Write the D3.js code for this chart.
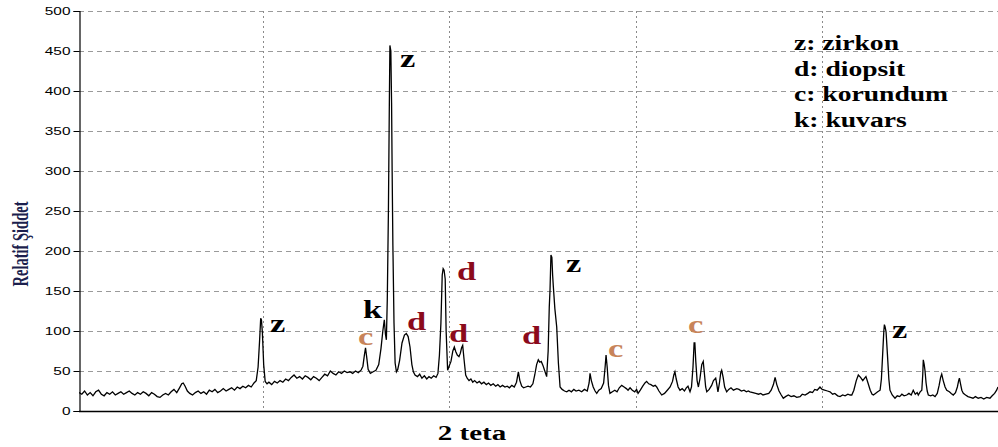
<!DOCTYPE html>
<html>
<head>
<meta charset="utf-8">
<script src="https://cdn.jsdelivr.net/npm/d3@7"></script>
<style>
  html, body { margin: 0; padding: 0; background: #fff; }
  svg { display: block; }
</style>
</head>
<body>
<svg id="chart" width="998" height="447"></svg>
<script>
// XRD pattern: 2θ (degrees) and relative intensity
const twoTheta = [
  10.10,10.25,10.40,10.55,10.70,10.85,11.00,11.15,11.30,11.45,11.60,11.75,11.90,12.05,12.20,12.35,12.50,12.65,12.80,12.95,
  13.10,13.25,13.40,13.55,13.70,13.85,14.00,14.15,14.30,14.45,14.60,14.75,14.90,15.05,15.20,15.35,15.50,15.62,15.70,15.80,
  15.92,16.05,16.20,16.35,16.50,16.65,16.80,16.95,17.10,17.25,17.40,17.55,17.70,17.85,18.00,18.15,18.30,18.45,18.60,18.75,
  18.90,19.05,19.20,19.35,19.50,19.62,19.72,19.80,19.86,19.90,19.95,20.02,20.10,20.20,
  20.30,20.45,20.60,20.75,20.90,21.05,21.20,21.35,21.50,21.65,21.80,21.95,22.10,22.25,22.40,22.55,22.70,22.85,23.00,23.15,
  23.30,23.45,23.60,23.75,23.90,24.05,24.20,24.35,24.50,24.65,24.80,24.95,25.10,25.25,25.35,25.43,25.49,25.55,25.63,25.75,
  25.90,26.05,26.20,26.32,26.42,26.50,26.56,26.61,26.66,26.72,26.77,26.80,26.85,26.89,26.92,26.96,27.02,27.08,27.15,27.22,27.32,
  27.45,27.58,27.68,27.78,27.88,27.98,28.06,28.15,28.28,28.40,28.52,28.65,28.78,28.90,29.02,29.15,29.28,29.38,29.46,29.54,
  29.61,29.66,29.71,29.77,29.82,29.90,29.98,30.08,30.18,30.26,30.34,30.42,30.51,30.58,30.65,30.71,30.78,30.87,30.95,31.05,
  31.15,31.25,31.35,31.48,31.60,31.72,31.85,31.98,32.10,32.22,32.35,32.48,32.60,32.72,32.85,32.98,33.10,33.22,33.35,33.48,
  33.60,33.70,33.78,33.88,33.98,34.10,34.22,34.35,34.48,34.58,34.68,34.77,34.85,34.93,35.02,35.12,35.22,35.30,35.36,35.40,
  35.45,35.50,35.54,35.58,35.66,35.76,35.85,35.94,36.05,36.18,36.30,36.42,36.55,36.68,36.80,36.95,37.10,37.25,37.40,37.50,
  37.55,37.62,37.72,37.82,37.91,38.02,38.15,38.28,38.36,38.41,38.47,38.54,38.62,38.75,38.88,39.00,39.12,39.25,39.38,39.50,
  39.59,39.70,39.82,39.95,40.05,40.13,40.25,40.38,40.50,40.59,40.70,40.82,40.95,41.05,41.13,41.25,41.40,41.55,41.70,41.85,
  41.98,42.05,42.11,42.18,42.28,42.38,42.50,42.62,42.72,42.81,42.92,43.00,43.08,43.14,43.18,43.23,43.30,43.37,43.45,43.55,
  43.63,43.70,43.76,43.82,43.95,44.08,44.18,44.30,44.36,44.42,44.50,44.57,44.62,44.70,44.78,44.89,45.00,45.12,45.25,45.43,
  45.55,45.68,45.82,45.95,46.05,46.14,46.30,46.45,46.60,46.72,46.84,47.00,47.15,47.28,47.40,47.49,47.58,47.70,47.82,47.93,
  48.05,48.20,48.35,48.50,48.65,48.83,48.95,49.10,49.25,49.37,49.50,49.62,49.75,49.90,50.02,50.15,50.30,50.44,50.58,50.70,
  50.85,50.98,51.12,51.25,51.40,51.52,51.61,51.72,51.85,51.96,52.08,52.20,52.30,52.37,52.48,52.60,52.70,52.77,52.88,53.00,
  53.13,53.20,53.27,53.33,53.36,53.40,53.45,53.52,53.60,53.66,53.78,53.93,54.05,54.18,54.30,54.42,54.56,54.68,54.80,54.91,
  55.02,55.12,55.18,55.28,55.37,55.42,55.45,55.50,55.54,55.60,55.66,55.72,55.85,55.96,56.08,56.20,56.30,56.38,56.44,56.52,
  56.62,56.71,56.85,56.95,57.06,57.18,57.28,57.35,57.39,57.45,57.52,57.60,57.72,57.85,57.98,58.12,58.25,58.40,58.55,58.70,
  58.85,59.03,59.15,59.28,59.39,59.46
];
const intensity = [
  23,21,25,20,23,19,24,26,21,19,23,21,24,20,22,24,21,23,25,22,
  20,23,21,24,22,19,23,21,18,17,20,22,20,24,27,23,29,34,35,31,
  25,22,20,23,25,22,24,21,26,24,27,23,25,28,25,27,29,26,30,28,
  31,29,32,30,35,38,55,88,116,114,98,58,37,34,
  36,33,37,35,38,36,40,38,42,45,41,43,40,44,42,39,43,41,38,42,
  46,44,50,47,45,49,47,50,48,49,47,50,48,51,56,70,79,68,52,47,
  49,51,58,78,100,114,96,89,140,250,385,457,450,385,300,207,110,60,49,52,63,
  85,95,97,93,80,58,49,45,43,46,41,44,40,43,41,44,42,47,70,110,
  170,178,176,165,100,51,56,62,75,80,74,70,68,72,79,82,65,45,41,38,
  40,36,38,35,37,34,36,33,35,32,34,31,33,30,32,30,31,29,32,30,
  36,49,38,31,29,30,31,30,34,45,58,64,61,62,57,50,43,75,130,151,
  195,192,170,155,128,105,60,30,27,25,24,26,24,27,25,26,24,27,25,35,
  47,38,30,25,22,26,28,35,55,70,55,32,22,24,26,24,29,32,30,28,
  26,29,26,24,27,22,26,31,35,37,34,33,31,32,30,25,20,22,26,30,
  37,45,49,40,30,26,28,25,29,31,24,30,55,85,85,62,38,30,40,58,
  62,45,30,24,27,32,38,41,33,24,35,48,51,42,30,24,27,29,26,28,
  27,25,26,24,25,24,23,22,21,22,20,21,22,26,33,42,33,25,20,16,
  18,20,18,19,17,18,21,20,22,24,23,27,26,30,27,26,25,24,21,22,
  19,18,20,19,21,20,20,26,38,45,42,38,41,43,35,26,21,20,22,24,
  26,40,72,100,108,105,99,72,40,26,20,16,19,18,21,19,20,22,20,26,
  21,23,20,24,26,45,64,58,51,35,25,20,19,20,18,22,32,42,46,38,
  30,26,24,22,20,23,30,38,41,34,26,22,20,18,17,16,18,16,17,15,
  17,16,19,22,26,30
];

// Axis ticks
const yTicks = [0, 50, 100, 150, 200, 250, 300, 350, 400, 450, 500];
const xGrid = [20, 30, 40, 50];

// Phase labels: letter, phase and label anchor (2θ, intensity)
const peakLetters = ["z", "z", "k", "c", "d", "d", "d", "d", "z", "c", "c", "z"];
const peakPhase   = ["z", "z", "k", "c", "d", "d", "d", "d", "z", "c", "c", "z"];
const peakAtTheta = [20.36, 27.34, 25.35, 25.09, 27.72, 30.40, 29.97, 33.90, 36.26, 38.51, 42.81, 53.77];
const peakAtInt   = [99, 430, 116, 82, 101, 164, 86, 84, 174, 68, 98, 91];

// Legend entries
const legendItems = ["z: zirkon", "d: diopsit", "c: korundum", "k: kuvars"];

const xTitle = "2 teta";
const yTitle = "Relatif Şiddet";

// ---- drawing ----
const W = 998, H = 447;
const plot = { left: 79, right: 1008, top: 11, bottom: 411 };

const x = d3.scaleLinear().domain([10.1, 60]).range([plot.left, plot.right]);
const y = d3.scaleLinear().domain([0, 500]).range([plot.bottom, plot.top]);

const svg = d3.select("#chart");
const serif = "'Liberation Serif', 'Times New Roman', serif";
const sans = "'Liberation Sans', Arial, sans-serif";
const phaseColor = { z: "#000000", k: "#000000", d: "#8b0a1c", c: "#c8845a" };

svg.append("defs").append("clipPath").attr("id", "plotClip")
  .append("rect").attr("x", plot.left).attr("y", 0)
  .attr("width", W - plot.left).attr("height", plot.bottom + 1);

// horizontal dashed grid
svg.append("g")
  .selectAll("line")
  .data(yTicks.filter(d => d > 0))
  .join("line")
  .attr("x1", plot.left).attr("x2", W)
  .attr("y1", d => Math.round(y(d)) + 0.5).attr("y2", d => Math.round(y(d)) + 0.5)
  .attr("stroke", "#9a9a9a").attr("stroke-width", 1)
  .attr("stroke-dasharray", "5,4");

// vertical dotted grid
svg.append("g")
  .selectAll("line")
  .data(xGrid)
  .join("line")
  .attr("x1", d => Math.round(x(d)) + 0.5).attr("x2", d => Math.round(x(d)) + 0.5)
  .attr("y1", plot.top).attr("y2", plot.bottom)
  .attr("stroke", "#8a8a8a").attr("stroke-width", 1)
  .attr("stroke-dasharray", "2,3");

// y axis
const yAxis = d3.axisLeft(y).tickValues(yTicks).tickSize(6).tickPadding(3);
const gy = svg.append("g").attr("transform", `translate(${plot.left + 0.5},0)`).call(yAxis);
gy.select(".domain").attr("stroke", "#000").attr("stroke-width", 1.2);
gy.selectAll(".tick line").attr("stroke", "#000");
gy.selectAll(".tick text")
  .attr("font-family", sans).attr("font-size", 11).attr("fill", "#000")
  .attr("x", null).attr("dx", null)
  .attr("text-anchor", "end")
  .attr("transform", "translate(-9,0) scale(1.4,1)");

// x axis baseline
svg.append("line")
  .attr("x1", plot.left).attr("x2", W)
  .attr("y1", plot.bottom + 0.5).attr("y2", plot.bottom + 0.5)
  .attr("stroke", "#000").attr("stroke-width", 1.4);

// diffraction trace
const pts = twoTheta.map((t, i) => [t, intensity[i]]);
svg.append("path")
  .datum(pts)
  .attr("clip-path", "url(#plotClip)")
  .attr("fill", "none")
  .attr("stroke", "#000")
  .attr("stroke-width", 1.3)
  .attr("stroke-linejoin", "miter")
  .attr("d", d3.line().x(d => x(d[0])).y(d => y(d[1])));

// phase letters over the peaks
svg.append("g")
  .selectAll("text")
  .data(peakLetters.map((l, i) => ({ l, p: peakPhase[i], t: peakAtTheta[i], v: peakAtInt[i] })))
  .join("text")
  .attr("transform", d => `translate(${x(d.t)},${y(d.v)}) scale(1.38,1)`)
  .attr("font-family", serif).attr("font-weight", "bold").attr("font-size", 25)
  .attr("fill", d => phaseColor[d.p])
  .text(d => d.l);

// legend
svg.append("g")
  .selectAll("text")
  .data(legendItems)
  .join("text")
  .attr("transform", (d, i) => `translate(794,${50 + i * 25.7}) scale(1.38,1)`)
  .attr("font-family", serif).attr("font-weight", "bold").attr("font-size", 20)
  .attr("fill", "#000")
  .text(d => d);

// axis titles
svg.append("text")
  .attr("transform", "translate(472,440) scale(1.32,1)")
  .attr("text-anchor", "middle")
  .attr("font-family", serif).attr("font-weight", "bold").attr("font-size", 22)
  .attr("fill", "#000")
  .text(xTitle);

svg.append("text")
  .attr("transform", "translate(20,244) scale(1.6,1) rotate(-90)")
  .attr("text-anchor", "middle").attr("dominant-baseline", "central")
  .attr("font-family", serif).attr("font-weight", "bold").attr("font-size", 14.5)
  .attr("fill", "#1c1f4e")
  .text(yTitle);
</script>
</body>
</html>
